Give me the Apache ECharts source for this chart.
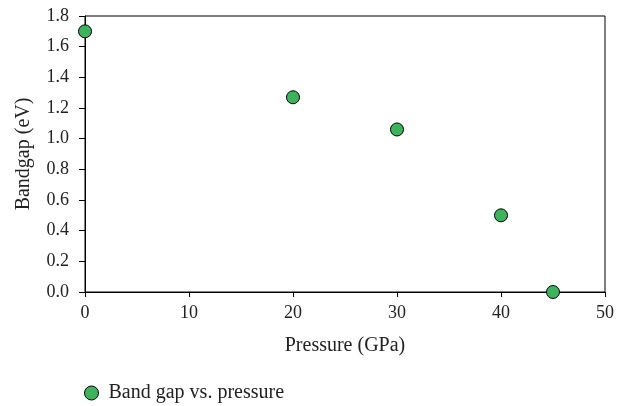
<!DOCTYPE html>
<html><head><meta charset="utf-8">
<script src="https://cdn.jsdelivr.net/npm/echarts@6/dist/echarts.min.js"></script>
<style>html,body{margin:0;padding:0;background:#fff}#c{width:617px;height:406px}</style>
</head><body><div id="c"></div>
<script>
const pressure = [0, 20, 30, 40, 45];
const bandgap = [1.70, 1.27, 1.06, 0.50, 0.00];
const seriesName = 'Band gap vs. pressure';
const xName = 'Pressure (GPa)';
const yName = 'Bandgap (eV)';

const FONT = 'Liberation Serif';
const chart = echarts.init(document.getElementById('c'), null, {renderer: 'canvas'});
chart.setOption({
  animation: false,
  backgroundColor: '#fff',
  grid: {left: 85, right: 10, top: 16, bottom: 114, show: true, borderColor: '#000', borderWidth: 1},
  xAxis: {
    type: 'value', min: 0, max: 50, interval: 10,
    name: xName, nameLocation: 'middle', nameGap: 44,
    nameTextStyle: {fontFamily: FONT, fontSize: 20, color: '#222'},
    axisLine: {show: true, lineStyle: {color: '#000', width: 1}},
    axisTick: {show: true, length: 5, lineStyle: {color: '#000'}},
    axisLabel: {fontFamily: FONT, fontSize: 18, color: '#222', margin: 12},
    splitLine: {show: false}
  },
  yAxis: {
    type: 'value', min: 0, max: 1.8, interval: 0.2,
    name: yName, nameLocation: 'middle', nameGap: 51,
    nameTextStyle: {fontFamily: FONT, fontSize: 20, color: '#222'},
    axisLine: {show: true, lineStyle: {color: '#000', width: 1}},
    axisTick: {show: true, length: 6, lineStyle: {color: '#000'}},
    axisLabel: {fontFamily: FONT, fontSize: 18, color: '#222', margin: 16,
      formatter: v => v.toFixed(1)},
    splitLine: {show: false}
  },
  legend: {
    left: 79, top: 378, itemWidth: 14, itemHeight: 14,
    itemStyle: {borderWidth: 1, borderColor: '#000'},
    textStyle: {fontFamily: FONT, fontSize: 20, color: '#222', padding: [0, 0, 0, 5]},
    data: [{name: seriesName, icon: 'circle'}]
  },
  series: [{
    name: seriesName, type: 'scatter',
    data: pressure.map((p, i) => [p, bandgap[i]]),
    symbol: 'circle', symbolSize: 13,
    itemStyle: {color: '#3cb45c', borderColor: '#000', borderWidth: 1, opacity: 1},
    clip: false
  }]
});
</script></body></html>
